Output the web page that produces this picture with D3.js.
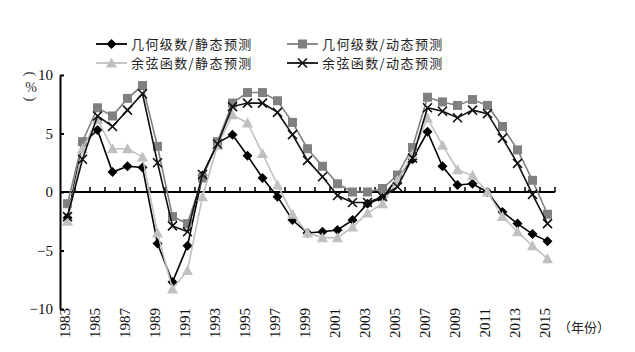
<!DOCTYPE html>
<html>
<head>
<meta charset="utf-8">
<script src="https://cdn.jsdelivr.net/npm/d3@7"></script>
<style>
body{margin:0;background:#fff;}
</style>
</head>
<body>
<svg id="chart" width="635" height="352"></svg>
<script>
//growth forecast chart

var years = d3.range(1983, 2016);
var yTicks = [10, 5, 0, -5, -10];

var seriesNames = ["几何级数/静态预测", "几何级数/动态预测", "余弦函数/静态预测", "余弦函数/动态预测"];

var geoStatic = [-2.2, 4.1, 5.3, 1.7, 2.2, 2.1, -4.4, -7.7, -4.6, 1.4, 4.2, 4.9, 3.1, 1.2, -0.4, -2.4, -3.5, -3.4, -3.25, -2.4, -1.0, -0.5, 1.2, 2.8, 5.15, 2.2, 0.6, 0.7, 0.0, -1.7, -2.7, -3.6, -4.2];
var geoDynamic = [-1.0, 4.3, 7.2, 6.5, 8.0, 9.1, 3.9, -2.1, -2.7, 1.2, 4.3, 7.6, 8.5, 8.5, 7.8, 5.95, 3.7, 2.2, 0.7, 0.0, 0.0, 0.3, 1.45, 3.8, 8.1, 7.7, 7.4, 7.9, 7.4, 5.6, 3.6, 1.0, -1.9];
var cosStatic = [-2.5, 3.7, 6.2, 3.7, 3.7, 3.0, -3.5, -8.3, -6.7, -0.4, 4.0, 6.6, 5.9, 3.3, 0.6, -1.9, -3.5, -3.9, -3.9, -3.0, -1.8, -1.0, 1.0, 3.2, 6.3, 4.0, 1.9, 1.4, 0.0, -2.1, -3.4, -4.6, -5.7];
var cosDynamic = [-2.1, 2.8, 6.5, 5.6, 7.0, 8.4, 2.5, -2.9, -3.4, 1.5, 4.1, 7.3, 7.6, 7.6, 6.8, 4.9, 2.7, 1.3, -0.3, -0.9, -0.9, -0.4, 0.45, 2.9, 7.2, 6.9, 6.35, 7.0, 6.7, 4.6, 2.45, -0.2, -2.7];

var seriesValues = [geoStatic, geoDynamic, cosStatic, cosDynamic];
var seriesColors = ["#000000", "#808080", "#c0c0c0", "#111111"];
var seriesMarkers = ["diamond", "square", "triangle", "cross"];

var svg = d3.select("#chart");
var serif = "'Liberation Serif','Times New Roman',serif";
var cjk = "'Noto Sans CJK SC','Noto Sans',sans-serif";

var x = d3.scaleBand().domain(years).range([60, 555]);
var y = d3.scaleLinear().domain([-10, 10]).range([309, 75]);

function cx(d){ return x(d) + x.bandwidth()/2; }

// y axis, ticks pointing inward
var yAxis = d3.axisLeft(y).tickValues(yTicks).tickSizeInner(-4).tickSizeOuter(0)
	.tickFormat(function(d){ return d < 0 ? "\u2212" + Math.abs(d) : d; });
var gy = svg.append("g").attr("transform", "translate(60,0)").call(yAxis);
gy.select(".domain").attr("stroke", "#000").attr("stroke-width", 2);
gy.selectAll(".tick line").attr("stroke", "#000").attr("stroke-width", 2);
gy.selectAll(".tick text").attr("x", -7).attr("font-family", serif).attr("font-size", 15).attr("fill", "#111");

// zero line with ticks between the years
var zeroY = y(0);
var gx = svg.append("g").attr("transform", "translate(0," + zeroY + ")");
gx.append("line").attr("x1", 60).attr("x2", 555).attr("stroke", "#000").attr("stroke-width", 2);
var bounds = years.map(function(d){ return x(d) + x.bandwidth(); });
gx.selectAll(".xt").data(bounds).enter().append("line")
	.attr("x1", function(d){ return d; }).attr("x2", function(d){ return d; })
	.attr("y1", 0).attr("y2", -5)
	.attr("stroke", "#000").attr("stroke-width", 1.5);

// year labels along the bottom
var labelYears = years.filter(function(d){ return (d - 1983) % 2 === 0; });
svg.selectAll(".yl").data(labelYears).enter().append("text")
	.attr("transform", function(d){ return "translate(" + cx(d) + ",308) rotate(-90)"; })
	.attr("text-anchor", "end")
	.attr("dy", "0.17em")
	.attr("font-family", serif).attr("font-size", 15).attr("fill", "#111")
	.text(function(d){ return d; });

svg.append("text").attr("x", 558).attr("y", 332)
	.attr("font-family", cjk).attr("font-size", 13).attr("fill", "#222")
	.text("（年份）");

// unit label, written vertically: rotated parens round an upright %
svg.append("text").attr("transform", "translate(31,74) rotate(90)")
	.attr("text-anchor", "middle").attr("dominant-baseline", "central")
	.attr("font-family", serif).attr("font-size", 15).attr("fill", "#333").text("(");
svg.append("text").attr("x", 31).attr("y", 87).attr("text-anchor", "middle").attr("dominant-baseline", "central")
	.attr("font-family", serif).attr("font-size", 14).attr("fill", "#333").text("%");
svg.append("text").attr("transform", "translate(31,99) rotate(90)")
	.attr("text-anchor", "middle").attr("dominant-baseline", "central")
	.attr("font-family", serif).attr("font-size", 15).attr("fill", "#333").text(")");

function drawMarker(g, type, color, px, py){
	if(type === "diamond"){
		g.append("path").attr("d", "M" + px + "," + (py-5) + "L" + (px+5) + "," + py + "L" + px + "," + (py+5) + "L" + (px-5) + "," + py + "Z")
			.attr("fill", color);
	} else if(type === "square"){
		g.append("rect").attr("x", px-4.5).attr("y", py-4.5).attr("width", 9).attr("height", 9).attr("fill", color);
	} else if(type === "triangle"){
		g.append("path").attr("d", "M" + px + "," + (py-5.5) + "L" + (px+5.5) + "," + (py+4.5) + "L" + (px-5.5) + "," + (py+4.5) + "Z")
			.attr("fill", color);
	} else {
		g.append("path").attr("d", "M" + (px-4.5) + "," + (py-4.5) + "L" + (px+4.5) + "," + (py+4.5) + "M" + (px+4.5) + "," + (py-4.5) + "L" + (px-4.5) + "," + (py+4.5))
			.attr("stroke", color).attr("stroke-width", 1.6).attr("fill", "none");
	}
}

var line = d3.line()
	.x(function(d, i){ return cx(years[i]); })
	.y(function(d){ return y(d); });

// series
for(var s = 0; s < seriesValues.length; s++){
	var g = svg.append("g").attr("class", "series");
	g.append("path").datum(seriesValues[s]).attr("d", line)
		.attr("fill", "none").attr("stroke", seriesColors[s]).attr("stroke-width", 1.6);
	for(var i = 0; i < years.length; i++){
		drawMarker(g, seriesMarkers[s], seriesColors[s], cx(years[i]), y(seriesValues[s][i]));
	}
}

// legend
var legendPos = [[96, 44], [287, 44], [96, 63], [287, 63]];
for(var k = 0; k < seriesNames.length; k++){
	var lx = legendPos[k][0], ly = legendPos[k][1];
	var lg = svg.append("g").attr("class", "legend");
	lg.append("line").attr("x1", lx).attr("x2", lx + 31).attr("y1", ly).attr("y2", ly)
		.attr("stroke", seriesColors[k]).attr("stroke-width", 1.8);
	drawMarker(lg, seriesMarkers[k], seriesColors[k], lx + 15.5, ly);
	lg.append("text").attr("x", lx + 35).attr("y", ly).attr("dy", "0.36em")
		.attr("font-family", cjk).attr("font-size", 13).attr("letter-spacing", 1.4).attr("fill", "#222")
		.text(seriesNames[k]);
}
</script>
</body>
</html>
